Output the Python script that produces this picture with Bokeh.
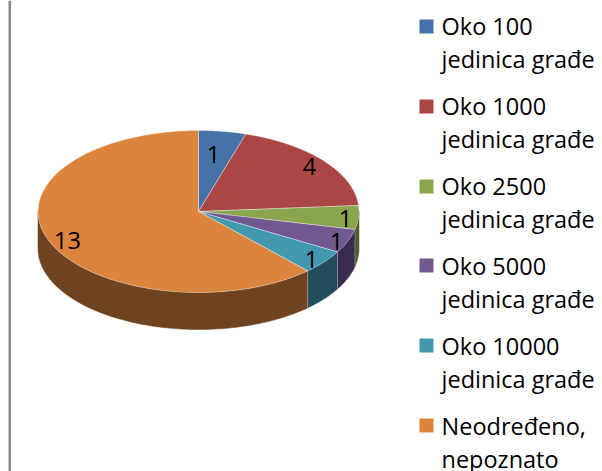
import numpy as np
from bokeh.plotting import figure
from bokeh.models import Range1d
from bokeh.core.properties import value
from bokeh.embed import file_html
from bokeh.resources import INLINE

# data
categories = ["Oko 100 jedinica građe", "Oko 1000 jedinica građe", "Oko 2500 jedinica građe",
              "Oko 5000 jedinica građe", "Oko 10000 jedinica građe", "Neodređeno, nepoznato"]
legend_line1 = ["Oko 100", "Oko 1000", "Oko 2500", "Oko 5000", "Oko 10000", "Neodređeno,"]
legend_line2 = ["jedinica građe", "jedinica građe", "jedinica građe", "jedinica građe", "jedinica građe", "nepoznato"]
counts = [1, 4, 1, 1, 1, 13]

# styles
top_colors = ["#4572A7", "#AA4643", "#89A54E", "#71588F", "#4198AF", "#DB843D"]
side_colors = ["#2A4565", "#672A28", "#4E5E28", "#3B2B4E", "#224E5C", "#6F4220"]
FONT = "Open Sans"
FS = "23.5px"

# layout (page pixels)
CX, CY, RX, RY, DEPTH = 198.0, 211.0, 160.5, 81.0, 37.0
label_xy = [(213, 154), (309, 166), (345, 218), (336, 241), (311, 259), (67, 240)]

p = figure(width=602, height=471, x_range=Range1d(0, 602), y_range=Range1d(471, 0),
           output_backend="svg", toolbar_location=None, min_border=0,
           outline_line_color=None, background_fill_color="white", border_fill_color="white")
p.axis.visible = False
p.grid.visible = False

# left frame line
p.segment([9.3], [0], [9.3], [471], line_color="#8c8c8c", line_width=2.6)

def ex(a): return CX + RX * np.sin(a)
def ey(a): return CY - RY * np.cos(a)

edges = np.cumsum([0] + counts) / sum(counts) * 2 * np.pi

# visible side walls
for i, c in enumerate(side_colors):
    a0, a1 = max(edges[i], np.pi / 2), min(edges[i + 1], 3 * np.pi / 2)
    if a1 <= a0:
        continue
    t = np.linspace(a0, a1, 120)
    xs = np.r_[ex(t), ex(t)[::-1]]
    ys = np.r_[ey(t), ey(t)[::-1] + DEPTH]
    p.patch(xs, ys, fill_color=c, line_color=c, line_width=0.5)

# light seams on the wall
for i in range(1, len(counts)):
    a = edges[i]
    if np.pi / 2 < a < 3 * np.pi / 2:
        p.segment([ex(a)], [ey(a)], [ex(a)], [ey(a) + DEPTH], line_color="#ffffff", line_alpha=0.35, line_width=1)

# top face
for i, c in enumerate(top_colors):
    t = np.linspace(edges[i], edges[i + 1], 160)
    xs = np.r_[CX, ex(t)]
    ys = np.r_[CY, ey(t)]
    p.patch(xs, ys, fill_color=c, line_color="#ffffff", line_alpha=0.45, line_width=0.8)

# slice labels
p.text([q[0] for q in label_xy], [q[1] for q in label_xy], text=[str(v) for v in counts],
       text_font=value(FONT), text_font_size=FS, text_color="#000000",
       text_align="center", text_baseline="middle")

# legend
LX, SW, Y0, DY = 419, 14, 19, 80
ytop = [Y0 + DY * i for i in range(len(categories))]
ytop[3] -= 1; ytop[4] -= 1; ytop[5] -= 1
p.quad(left=[LX] * 6, right=[LX + SW] * 6, top=ytop, bottom=[y + SW for y in ytop],
       fill_color=top_colors, line_color=None)
p.text([441] * 6, [25 + DY * i for i in range(6)], text=legend_line1, text_font=value(FONT),
       text_font_size=FS, text_color="#000000", text_align="left", text_baseline="alphabetic")
p.text([441] * 6, [58 + DY * i for i in range(6)], text=legend_line2, text_font=value(FONT),
       text_font_size=FS, text_color="#000000", text_align="left", text_baseline="alphabetic")

open("out.html", "w").write(file_html(p, INLINE))
